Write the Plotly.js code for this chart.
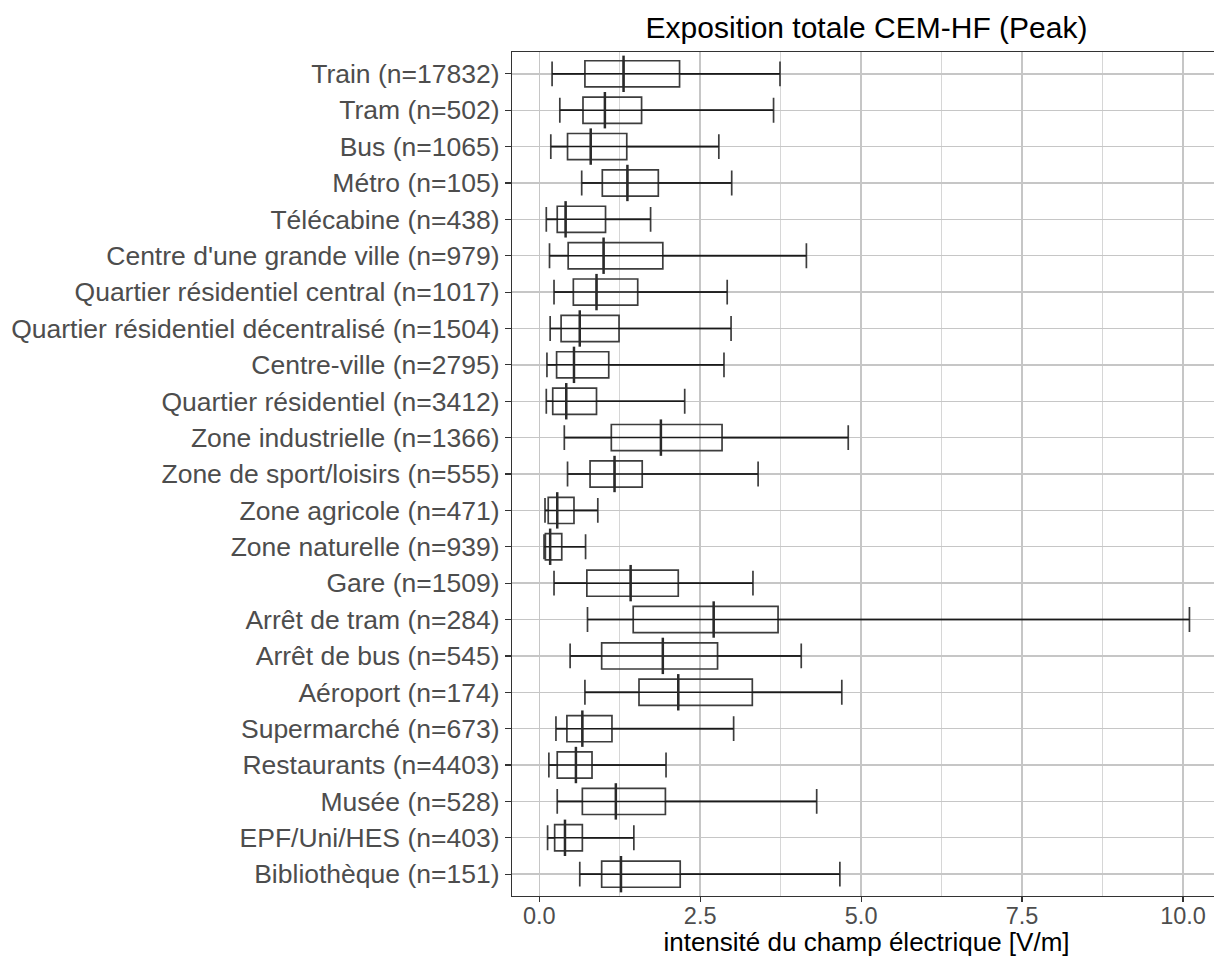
<!DOCTYPE html>
<html>
<head>
<meta charset="utf-8">
<script src="https://cdn.plot.ly/plotly-3.0.1.min.js"></script>
<style>
  html, body { margin: 0; padding: 0; overflow: hidden; background: #ffffff; width: 1214px; height: 957px; }
  #chart { width: 1221px; height: 957px; }
</style>
</head>
<body>
<div id="chart"></div>
<script>
// Categories (top to bottom)
const categories = [
  "Train (n=17832)", "Tram (n=502)", "Bus (n=1065)", "Métro (n=105)", "Télécabine (n=438)",
  "Centre d'une grande ville (n=979)", "Quartier résidentiel central (n=1017)",
  "Quartier résidentiel décentralisé (n=1504)", "Centre-ville (n=2795)",
  "Quartier résidentiel (n=3412)", "Zone industrielle (n=1366)", "Zone de sport/loisirs (n=555)",
  "Zone agricole (n=471)", "Zone naturelle (n=939)", "Gare (n=1509)", "Arrêt de tram (n=284)",
  "Arrêt de bus (n=545)", "Aéroport (n=174)", "Supermarché (n=673)", "Restaurants (n=4403)",
  "Musée (n=528)", "EPF/Uni/HES (n=403)", "Bibliothèque (n=151)"
];
// Box statistics (V/m)
const lowerWhisker = [0.20, 0.32, 0.18, 0.66, 0.11, 0.16, 0.23, 0.17, 0.12, 0.11, 0.39, 0.44, 0.09, 0.075, 0.23, 0.75, 0.48, 0.71, 0.26, 0.15, 0.28, 0.13, 0.63];
const q1 =           [0.71, 0.68, 0.44, 0.98, 0.28, 0.45, 0.53, 0.34, 0.27, 0.21, 1.12, 0.79, 0.14, 0.096, 0.74, 1.46, 0.97, 1.55, 0.43, 0.28, 0.67, 0.24, 0.97];
const medians =      [1.31, 1.02, 0.80, 1.37, 0.41, 1.00, 0.89, 0.63, 0.54, 0.42, 1.89, 1.17, 0.28, 0.17, 1.42, 2.71, 1.92, 2.16, 0.67, 0.57, 1.19, 0.40, 1.27];
const q3 =           [2.18, 1.59, 1.36, 1.85, 1.03, 1.92, 1.53, 1.24, 1.08, 0.89, 2.84, 1.60, 0.54, 0.35, 2.16, 3.71, 2.77, 3.31, 1.13, 0.82, 1.96, 0.67, 2.19];
const upperWhisker = [3.74, 3.64, 2.79, 2.99, 1.73, 4.15, 2.92, 2.98, 2.87, 2.26, 4.80, 3.40, 0.91, 0.72, 3.32, 10.10, 4.07, 4.70, 3.02, 1.97, 4.31, 1.47, 4.67];
// Axis ticks
const xTickVals = [0, 2.5, 5, 7.5, 10];
const xTickText = ["0.0", "2.5", "5.0", "7.5", "10.0"];
const xMinorVals = [1.25, 3.75, 6.25, 8.75];

const titleText = "Exposition totale CEM-HF (Peak)";
const xTitleText = "intensité du champ électrique [V/m]";

const FONT = "Liberation Sans, Arial, Helvetica, sans-serif";

// Full whisker line (errorbar style) drawn through each box
const wx = [], wy = [];
categories.forEach((c, i) => {
  wx.push(lowerWhisker[i], upperWhisker[i], null);
  wy.push(c, c, null);
});

const whiskerTrace = {
  type: "scatter", mode: "lines",
  x: wx, y: wy,
  line: { color: "#1a1a1a", width: 1.5 },
  hoverinfo: "skip", showlegend: false
};

const boxTrace = {
  type: "box", orientation: "h",
  y: categories,
  q1: q1, median: medians, q3: q3,
  lowerfence: lowerWhisker, upperfence: upperWhisker,
  boxpoints: false,
  width: 0.72,
  whiskerwidth: 0.95,
  fillcolor: "rgba(0,0,0,0)",
  line: { color: "#3d3d3d", width: 1.7 },
  showlegend: false
};

const medianTrace = {
  type: "scatter", mode: "markers",
  x: medians, y: categories,
  marker: { symbol: "line-ns", size: 26, color: "#2a2a2a", line: { color: "#2a2a2a", width: 2.5 } },
  hoverinfo: "skip", showlegend: false
};

// Panel: x=0 at 539.5px, 64.35 px per unit; panel from 512px to 1221px (right border just past the visible edge)
const layout = {
  width: 1221, height: 957,
  margin: { l: 512, r: 0, t: 52, b: 60.5 },
  paper_bgcolor: "#ffffff", plot_bgcolor: "#ffffff",
  font: { family: FONT },
  showlegend: false,
  title: {
    text: titleText,
    font: { family: FONT, size: 30, color: "#000000" },
    x: 0.5, xref: "paper", xanchor: "center",
    y: 1 - 27 / 957, yref: "container", yanchor: "middle"
  },
  xaxis: {
    range: [-0.4227, 10.59],
    tickmode: "array", tickvals: xTickVals, ticktext: xTickText,
    ticks: "outside", ticklen: 5, tickwidth: 1.2, tickcolor: "#333333",
    ticklabelstandoff: -6,
    tickfont: { family: FONT, size: 23.5, color: "#4d4d4d" },
    showgrid: true, gridcolor: "#c6c6c6", gridwidth: 1.4,
    minor: { tickmode: "array", tickvals: xMinorVals, showgrid: true, gridcolor: "#d6d6d6", gridwidth: 1.1, ticks: "" },
    zeroline: false,
    showline: true, linecolor: "#333333", linewidth: 1.2, mirror: true,
    title: { text: xTitleText, font: { family: FONT, size: 26, color: "#000000" }, standoff: 14 },
    automargin: false
  },
  yaxis: {
    type: "category",
    categoryorder: "array", categoryarray: categories,
    range: [22.6, -0.6],
    ticks: "outside", ticklen: 6, tickwidth: 1.2, tickcolor: "#333333",
    tickfont: { family: FONT, size: 26.5, color: "#4d4d4d" },
    showgrid: true, gridcolor: "#c6c6c6", gridwidth: 1.4,
    zeroline: false,
    showline: true, linecolor: "#333333", linewidth: 1.2, mirror: true,
    automargin: false
  }
};

Plotly.newPlot("chart", [whiskerTrace, boxTrace, medianTrace], layout, { displayModeBar: false, staticPlot: true });
</script>
</body>
</html>
